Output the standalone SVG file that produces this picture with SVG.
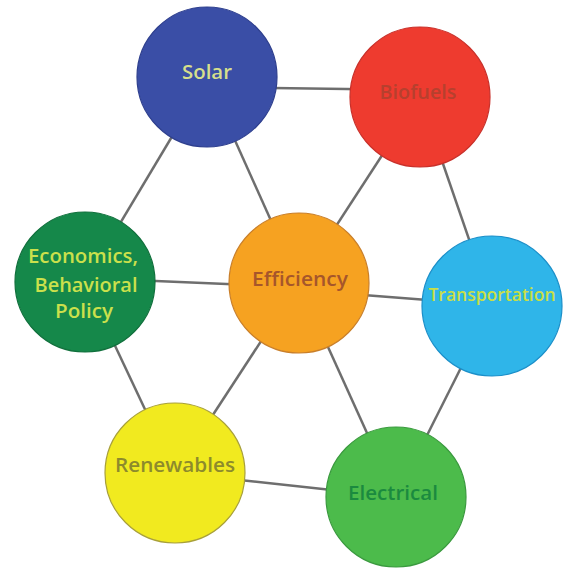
<svg xmlns="http://www.w3.org/2000/svg" width="567" height="569" viewBox="0 0 567 569">
<style>
.edge{stroke:#6e6e6e;stroke-width:2.5;fill:none}
.node circle{stroke-width:1.2}
.lbl{font-family:"Open Sans","Noto Sans","Liberation Sans",sans-serif;font-size:20px;font-weight:600;text-anchor:middle}
</style>
<rect width="567" height="569" fill="#ffffff"/>
<g id="connectors">
<line class="edge" x1="207" y1="87" x2="420" y2="90"/>
<line class="edge" x1="207" y1="78" x2="85" y2="282"/>
<line class="edge" x1="207" y1="78" x2="299" y2="283"/>
<line class="edge" x1="420" y1="97" x2="299" y2="283"/>
<line class="edge" x1="420" y1="97" x2="492" y2="306"/>
<line class="edge" x1="85" y1="278" x2="299" y2="287"/>
<line class="edge" x1="299" y1="290" x2="492" y2="305"/>
<line class="edge" x1="85" y1="282" x2="175" y2="473"/>
<line class="edge" x1="299" y1="283" x2="175" y2="473"/>
<line class="edge" x1="299" y1="283" x2="396" y2="497"/>
<line class="edge" x1="492" y1="306" x2="396" y2="497"/>
<line class="edge" x1="175" y1="473" x2="396" y2="497"/>
</g>
<g id="solar" class="node">
<circle cx="207" cy="77" r="70" fill="#3a4ea6" stroke="#2e3f8e"/>
<text class="lbl" x="207" y="79" fill="#d6df8c" textLength="50" lengthAdjust="spacingAndGlyphs">Solar</text>
</g>
<g id="biofuels" class="node">
<circle cx="420" cy="97" r="70" fill="#ee3b2f" stroke="#c9302a"/>
<text class="lbl" x="418" y="99" fill="#b6402e" textLength="77" lengthAdjust="spacingAndGlyphs">Biofuels</text>
</g>
<g id="economics" class="node">
<circle cx="85" cy="282" r="70" fill="#15884a" stroke="#10703c"/>
<text class="lbl" x="83" y="263" fill="#cbe04c" textLength="110" lengthAdjust="spacingAndGlyphs">Economics,</text>
<text class="lbl" x="86" y="292" fill="#cbe04c" textLength="103" lengthAdjust="spacingAndGlyphs">Behavioral</text>
<text class="lbl" x="84" y="318" fill="#cbe04c" textLength="58" lengthAdjust="spacingAndGlyphs">Policy</text>
</g>
<g id="efficiency" class="node">
<circle cx="299" cy="283" r="70" fill="#f6a221" stroke="#c97f2a"/>
<text class="lbl" x="300" y="286" fill="#a6562b" textLength="96" lengthAdjust="spacingAndGlyphs">Efficiency</text>
</g>
<g id="transportation" class="node">
<circle cx="492" cy="306" r="70" fill="#2fb5e9" stroke="#1b8fc9"/>
<text class="lbl" x="492" y="301" fill="#c9df46" style="font-size:17.5px">Transportation</text>
</g>
<g id="renewables" class="node">
<circle cx="175" cy="473" r="70" fill="#f1ea1f" stroke="#a8a03a"/>
<text class="lbl" x="175" y="472" fill="#8d8a2c" textLength="120" lengthAdjust="spacingAndGlyphs">Renewables</text>
</g>
<g id="electrical" class="node">
<circle cx="396" cy="497" r="70" fill="#4cbb4b" stroke="#3a9a3e"/>
<text class="lbl" x="393" y="500" fill="#1b8a3f" textLength="90" lengthAdjust="spacingAndGlyphs">Electrical</text>
</g>
</svg>
